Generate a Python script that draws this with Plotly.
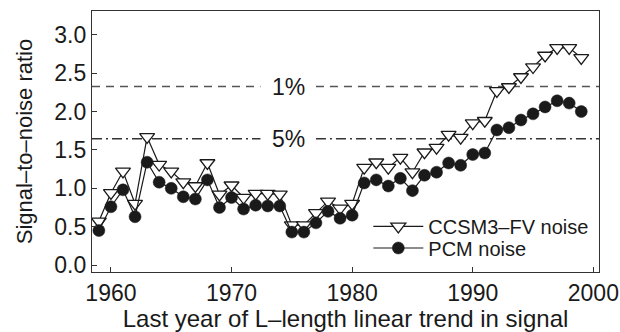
import plotly.graph_objects as go

# Last year of each L-length linear trend
years = list(range(1959, 2000))

# Signal-to-noise ratio against CCSM3-FV control noise
snr_ccsm3 = [0.57, 0.94, 1.22, 0.80, 1.67, 1.31, 1.22, 1.08, 1.03, 1.33,
             0.92, 1.04, 0.88, 0.93, 0.93, 0.92, 0.52, 0.52, 0.68, 0.83,
             0.74, 0.80, 1.27, 1.34, 1.27, 1.40, 1.21, 1.47, 1.53, 1.70,
             1.66, 1.85, 1.88, 2.27, 2.32, 2.45, 2.58, 2.73, 2.83, 2.83,
             2.70]

# Signal-to-noise ratio against PCM control noise
snr_pcm = [0.45, 0.76, 0.98, 0.63, 1.34, 1.08, 1.00, 0.89, 0.86, 1.11,
           0.75, 0.88, 0.73, 0.78, 0.77, 0.77, 0.43, 0.43, 0.55, 0.70,
           0.61, 0.65, 1.07, 1.11, 1.03, 1.13, 0.97, 1.17, 1.21, 1.33,
           1.30, 1.44, 1.46, 1.76, 1.79, 1.89, 1.97, 2.06, 2.14, 2.11,
           2.00]

# Significance thresholds (one-sided normal quantiles)
thr_1pct = 2.326
thr_5pct = 1.645
thr_labels = ["1%", "5%"]

x_ticks = [1960, 1970, 1980, 1990, 2000]
y_ticks = [0.0, 0.5, 1.0, 1.5, 2.0, 2.5, 3.0]

x_range = [1958.43, 2000.47]
y_range = [-0.09, 3.31]

FONT = "Liberation Sans, Arial, Helvetica, sans-serif"
INK = "#1a1a1a"

fig = go.Figure()

fig.add_trace(go.Scatter(
    x=years, y=snr_ccsm3, mode="lines+markers", name="CCSM3\u2013FV noise",
    legend="legend",
    line=dict(color=INK, width=1.2),
    marker=dict(symbol="triangle-down", size=13, color="white",
                line=dict(color=INK, width=1.3)),
))
fig.add_trace(go.Scatter(
    x=years, y=snr_pcm, mode="lines+markers", name="PCM noise",
    legend="legend2",
    line=dict(color=INK, width=1.2),
    marker=dict(symbol="circle", size=12, color=INK,
                line=dict(color=INK, width=0.5)),
))

# Threshold lines with a break for their labels
gap_lo, gap_hi = 1972.4, 1977.0
for thr, dash, col in [(thr_1pct, "8px,6px", "#555555"),
                       (thr_5pct, "10px,4px,2px,4px", "#333333")]:
    for xa, xb in [(x_range[0], gap_lo), (gap_hi, x_range[1])]:
        fig.add_shape(type="line", xref="x", yref="y", x0=xa, x1=xb,
                      y0=thr, y1=thr, layer="below",
                      line=dict(color=col, width=1.4, dash=dash))

for thr, lab in zip([thr_1pct, thr_5pct], thr_labels):
    fig.add_annotation(x=(gap_lo + gap_hi) / 2, y=thr, xref="x", yref="y",
                       text=lab, showarrow=False,
                       font=dict(family=FONT, size=23, color=INK))

axis_common = dict(
    showline=True, linecolor="#333333", linewidth=1.3, mirror=True,
    ticks="inside", ticklen=5, tickwidth=1, tickcolor="#333333",
    showgrid=False, zeroline=False, automargin=False,
    tickfont=dict(family=FONT, size=23, color=INK),
)

fig.update_xaxes(range=x_range, tickvals=x_ticks, **axis_common,
                 title=dict(text="Last year of L\u2013length linear trend in signal",
                            font=dict(family=FONT, size=24, color=INK),
                            standoff=1))
fig.update_yaxes(range=y_range, tickvals=y_ticks, tickformat=".1f",
                 **axis_common,
                 title=dict(text="Signal\u2013to\u2013noise ratio",
                            font=dict(family=FONT, size=22, color=INK),
                            standoff=15))

legend_common = dict(
    xanchor="left", yanchor="middle",
    bgcolor="rgba(0,0,0,0)", borderwidth=0,
    font=dict(family=FONT, size=20, color=INK),
    itemwidth=50,
)

fig.update_layout(
    width=620, height=332,
    margin=dict(l=92, r=21, t=11, b=60),
    paper_bgcolor="white", plot_bgcolor="white",
    showlegend=True,
    legend=dict(x=0.545, y=0.175, **legend_common),
    legend2=dict(x=0.545, y=0.092, **legend_common),
)

fig.write_html("out.html")
